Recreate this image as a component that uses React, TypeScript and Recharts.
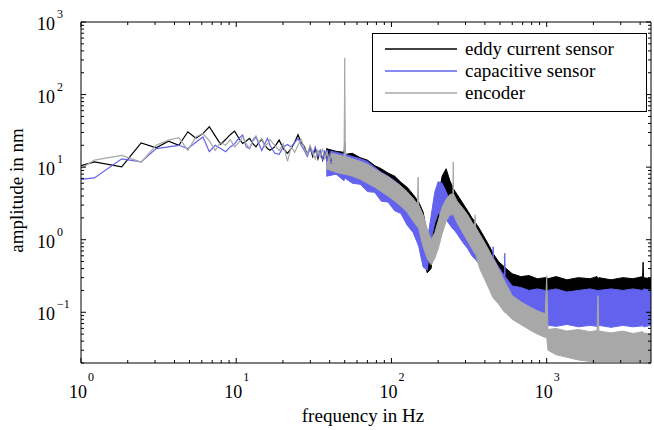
import { Area, ComposedChart, Legend, Line, XAxis, YAxis } from 'recharts'

const FONT = '"Liberation Serif", "Times New Roman", serif'

const seriesNames = ['eddy current sensor', 'capacitive sensor', 'encoder']
const seriesColors = ['#000000', '#6262ee', '#a8a8a8']

// low frequency part, drawn as plain lines (bins ~0.61 Hz apart)
const lowFreq = [
  1, 1.22, 1.83, 2.44, 3.05, 3.66, 4.27, 4.88, 5.49, 6.1, 6.71, 7.32, 7.93, 8.54, 9.15, 9.76,
  10.4, 11, 11.6, 12.2, 12.8, 13.4, 14, 14.6, 15.3, 15.9, 16.5, 17.7, 18.9, 20.1, 21.4, 22.6,
  23.8, 25, 26.2, 27.5, 28.7, 29.9, 31.1, 32.3, 33.6, 34.8, 36, 37.2, 38.4, 39.7, 40.9,
]
const eddyLow = [
  10.5, 11.8, 10.1, 21.6, 18.5, 22.8, 20, 30.7, 25, 29, 36, 27, 20.6, 24, 28, 31.4,
  25, 21.2, 23, 24.9, 21, 19, 22, 24, 20, 18, 17.1, 19, 23.6, 18, 15.5, 18.1,
  22, 28, 22, 19, 15, 19, 14, 18, 13, 17, 12.5, 16, 13, 17, 12,
]
const capLow = [
  6.8, 7.1, 13, 11.8, 18, 19, 20, 18, 22, 26, 16.3, 20, 18, 16.3, 19, 21,
  25, 27.6, 19, 18, 23, 26, 21, 17, 21, 25, 20, 15.5, 15, 19, 20.5, 19,
  22, 25, 20, 17, 14, 18, 15, 19, 14, 17, 13, 17, 12, 15, 11,
]
const encLow = [
  9.6, 12.5, 14.5, 11.7, 20, 23.6, 25.5, 17, 26, 29, 23, 17, 22, 20, 24, 19,
  22, 26, 21, 18, 24, 27, 22, 25, 19, 21, 24, 20, 17, 21, 12, 19,
  16, 20, 24, 18, 15, 20, 16, 13, 17, 14, 18, 13, 16, 12, 15,
]

// upper part: noise band, min / max per frequency
const bandFreq = [
  38, 44, 49.5, 50, 50.5, 56, 63, 70, 78, 86, 95, 105, 115, 126, 138, 147, 148.5, 150, 160, 170,
  180, 190, 200, 212, 225, 238, 249, 250, 251, 265, 285, 310, 330, 343, 346, 349, 370, 400, 430, 450,
  452, 455, 490, 535, 537, 540, 600, 680, 770, 870, 980, 1000, 1020, 1150, 1350, 1600, 1900, 2110, 2140, 2170,
  2600, 3100, 3600, 4150, 4180, 4210, 4700,
]
const eddyMin = [
  11, 9, 9, 9, 9, 8.5, 7.5, 6.5, 6, 5.5, 5, 4.3, 3.6, 3, 2.2, 1.6, 1.5, 1.4, 0.6, 0.35,
  0.4, 1.2, 1.8, 3.5, 4.5, 3.2, 2.7, 2.6, 2.6, 2.1, 1.6, 1.2, 0.95, 0.85, 0.82, 0.8, 0.65, 0.5, 0.42, 0.38,
  0.37, 0.36, 0.25, 0.22, 0.22, 0.22, 0.2, 0.19, 0.18, 0.18, 0.18, 0.17, 0.17, 0.17, 0.17, 0.17, 0.17, 0.17, 0.17, 0.17,
  0.17, 0.17, 0.17, 0.17, 0.17, 0.17, 0.17,
]
const eddyMax = [
  18, 16.5, 16, 22, 15, 15.5, 13.5, 12.5, 10.5, 9.5, 8.3, 7.5, 6.2, 5.3, 4.2, 3.5, 3.4, 3.3, 2.4, 1.2,
  0.9, 2.3, 3.8, 7.5, 9.5, 6.5, 5.2, 5.1, 5, 4.2, 3.3, 2.5, 2, 1.8, 1.75, 1.7, 1.4, 1.05, 0.8, 0.65,
  0.64, 0.63, 0.5, 0.42, 0.42, 0.41, 0.34, 0.31, 0.32, 0.29, 0.3, 0.3, 0.29, 0.31, 0.28, 0.3, 0.29, 0.31, 0.29, 0.3,
  0.28, 0.3, 0.29, 0.31, 0.49, 0.3, 0.29,
]
const capMin = [
  7.5, 8, 6.5, 7, 7, 6, 5.8, 4.6, 4.5, 3.4, 3.3, 2.5, 2.3, 1.6, 1.25, 0.9, 0.85, 0.8, 0.42, 0.38,
  1, 1.7, 2.3, 2.2, 1.9, 1.6, 1.4, 1.4, 1.4, 1.2, 0.95, 0.75, 0.6, 0.55, 0.54, 0.53, 0.45, 0.36, 0.3, 0.27,
  0.27, 0.27, 0.14, 0.11, 0.11, 0.11, 0.09, 0.08, 0.075, 0.07, 0.068, 0.066, 0.066, 0.064, 0.068, 0.063, 0.066, 0.064, 0.064, 0.066,
  0.062, 0.066, 0.063, 0.065, 0.065, 0.063, 0.066,
]
const capMax = [
  17, 16, 15, 16, 15, 14, 13, 12, 10, 8.5, 7.5, 6.5, 5.5, 4.5, 3.5, 2.6, 2.5, 2.4, 1.5, 0.95,
  2.1, 4.5, 6.3, 6, 4.6, 3.4, 2.9, 2.9, 2.9, 2.5, 2.1, 1.7, 1.4, 1.3, 1.28, 1.25, 1.05, 0.82, 0.65, 0.56,
  0.8, 0.55, 0.42, 0.32, 0.65, 0.31, 0.23, 0.22, 0.2, 0.21, 0.2, 0.19, 0.2, 0.21, 0.19, 0.2, 0.21, 0.2, 0.2, 0.2,
  0.21, 0.2, 0.21, 0.2, 0.2, 0.21, 0.2,
]
const encMin = [
  9.5, 8.5, 8, 8, 8, 7.5, 6.8, 6, 5.3, 4.6, 4, 3.4, 2.9, 2.4, 1.8, 1.5, 1.5, 1.4, 0.8, 0.55,
  0.45, 0.55, 0.75, 1.2, 1.8, 2.2, 2.2, 2.2, 2.2, 1.7, 1.3, 0.95, 0.75, 0.65, 0.65, 0.64, 0.4, 0.28, 0.2, 0.16,
  0.16, 0.155, 0.13, 0.1, 0.1, 0.1, 0.08, 0.068, 0.058, 0.05, 0.045, 0.045, 0.03, 0.026, 0.024, 0.022, 0.021, 0.021, 0.021, 0.021,
  0.021, 0.021, 0.021, 0.021, 0.021, 0.021, 0.021,
]
const encMax = [
  16, 15, 14, 320, 14, 13, 12, 11, 9.5, 8.3, 7.4, 6.3, 5.5, 4.6, 3.7, 3.1, 7.3, 3, 2.2, 1.4,
  1, 1.25, 1.8, 2.8, 3.6, 4.2, 4.3, 11.8, 4.3, 3.4, 2.8, 2.2, 1.75, 1.55, 2.2, 1.5, 1.2, 0.9, 0.68, 0.55,
  0.55, 0.54, 0.4, 0.27, 0.27, 0.26, 0.17, 0.14, 0.12, 0.105, 0.095, 0.32, 0.058, 0.06, 0.055, 0.058, 0.054, 0.056, 0.17, 0.055,
  0.052, 0.055, 0.051, 0.054, 0.053, 0.052, 0.05,
]

const xTicks = [
  1, 2, 3, 4, 5, 6, 7, 8, 9, 10, 20, 30, 40, 50, 60, 70, 80, 90,
  100, 200, 300, 400, 500, 600, 700, 800, 900, 1000, 2000, 3000, 4000,
]
const yTicks = [
  0.02, 0.03, 0.04, 0.05, 0.06, 0.07, 0.08, 0.09, 0.1, 0.2, 0.3, 0.4, 0.5, 0.6, 0.7, 0.8, 0.9,
  1, 2, 3, 4, 5, 6, 7, 8, 9, 10, 20, 30, 40, 50, 60, 70, 80, 90, 100, 200, 300, 400, 500, 600,
  700, 800, 900, 1000,
]

const lineData = (vals: number[]) => lowFreq.map((f, i) => ({ f, v: vals[i] }))
const bandData = (lo: number[], hi: number[]) =>
  bandFreq.map((f, i) => ({ f, range: [lo[i], hi[i]] }))

const series = [
  { low: lineData(eddyLow), band: bandData(eddyMin, eddyMax) },
  { low: lineData(capLow), band: bandData(capMin, capMax) },
  { low: lineData(encLow), band: bandData(encMin, encMax) },
]

function decade(v: number) {
  const l = Math.log10(v)
  return Math.abs(l - Math.round(l)) < 1e-6 ? Math.round(l) : null
}

function expText(e: number) {
  return e < 0 ? `\u2212${-e}` : `${e}`
}

function BottomTick({ x, y, payload }: any) {
  const e = decade(payload.value)
  return (
    <g>
      <line x1={x} x2={x} y1={y} y2={y - (e !== null ? 5 : 3)} stroke="#000" />
      {e !== null && (
        <g fontFamily={FONT} fill="#000">
          <text x={x - 3} y={y + 35} textAnchor="middle" fontSize={18}>10</text>
          <text x={x + 7} y={y + 18} fontSize={12}>{expText(e)}</text>
        </g>
      )}
    </g>
  )
}

function TopTick({ x, y, payload }: any) {
  const e = decade(payload.value)
  return <line x1={x} x2={x} y1={y} y2={y + (e !== null ? 5 : 3)} stroke="#000" />
}

function LeftTick({ x, y, payload }: any) {
  const e = decade(payload.value)
  return (
    <g>
      <line x1={x} x2={x + (e !== null ? 5 : 3)} y1={y} y2={y} stroke="#000" />
      {e !== null && (
        <g fontFamily={FONT} fill="#000">
          <text x={x - 26} y={y + 8} textAnchor="end" fontSize={18}>10</text>
          <text x={x - 24} y={y - 4} fontSize={12}>{expText(e)}</text>
        </g>
      )}
    </g>
  )
}

function RightTick({ x, y, payload }: any) {
  const e = decade(payload.value)
  return <line x1={x} x2={x - (e !== null ? 5 : 3)} y1={y} y2={y} stroke="#000" />
}

function XTitle({ viewBox }: any) {
  return (
    <text x={viewBox.x + viewBox.width / 2 - 3} y={viewBox.y + 59} textAnchor="middle"
      fontFamily={FONT} fontSize={19} fill="#000">
      frequency in Hz
    </text>
  )
}

function YTitle({ viewBox }: any) {
  const cy = viewBox.y + viewBox.height / 2 - 2
  return (
    <text x={23} y={cy} transform={`rotate(-90 23 ${cy})`} textAnchor="middle"
      fontFamily={FONT} fontSize={19} fill="#000">
      amplitude in nm
    </text>
  )
}

function LegendBox() {
  return (
    <div style={{
      width: 273, height: 73, paddingTop: 4, border: '1px solid #000', background: '#fff',
      fontFamily: FONT, fontSize: 19, color: '#000', lineHeight: '22px',
    }}>
      {seriesNames.map((name, i) => (
        <div key={name} style={{ display: 'flex', alignItems: 'center', height: 22 }}>
          <svg width={72} height={6} style={{ marginLeft: 12, marginRight: 8, display: 'block' }}>
            <line x1={0} x2={72} y1={3} y2={3} stroke={seriesColors[i]} strokeWidth={1.4} />
          </svg>
          <span>{name}</span>
        </div>
      ))}
    </div>
  )
}

export default function App() {
  return (
    <div style={{ position: 'fixed', left: 0, top: 0, width: 654, height: 430, background: '#fff' }}>
      <ComposedChart width={654} height={430} margin={{ top: 0, right: 0, bottom: 0, left: 0 }}>
        <XAxis
          dataKey="f" type="number" scale="log" domain={[1, 4700]} allowDataOverflow
          ticks={xTicks} interval={0} tick={(p: any) => <BottomTick {...p} />}
          tickLine={false} tickSize={0} tickMargin={0} height={67}
          axisLine={{ stroke: '#000' }} label={(p: any) => <XTitle {...p} />}
        />
        <XAxis
          xAxisId="top" orientation="top" dataKey="f" type="number" scale="log" domain={[1, 4700]}
          allowDataOverflow ticks={xTicks} interval={0} tick={(p: any) => <TopTick {...p} />}
          tickLine={false} tickSize={0} tickMargin={0} height={22} axisLine={{ stroke: '#000' }}
        />
        <YAxis
          type="number" scale="log" domain={[0.02, 1000]} allowDataOverflow
          ticks={yTicks} interval={0} tick={(p: any) => <LeftTick {...p} />}
          tickLine={false} tickSize={0} tickMargin={0} width={81}
          axisLine={{ stroke: '#000' }} label={(p: any) => <YTitle {...p} />}
        />
        <YAxis
          yAxisId="right" orientation="right" type="number" scale="log" domain={[0.02, 1000]}
          allowDataOverflow ticks={yTicks} interval={0} tick={(p: any) => <RightTick {...p} />}
          tickLine={false} tickSize={0} tickMargin={0} width={3} axisLine={{ stroke: '#000' }}
        />
        {series.map((s, i) => [
          <Line
            key={`l${i}`} data={s.low} dataKey="v" stroke={seriesColors[i]} strokeWidth={1.2}
            dot={false} isAnimationActive={false} legendType="none"
          />,
          <Area
            key={`a${i}`} data={s.band} dataKey="range" stroke={seriesColors[i]} strokeWidth={1}
            fill={seriesColors[i]} fillOpacity={1} dot={false} activeDot={false}
            isAnimationActive={false} legendType="none"
          />,
        ])}
        <Legend
          layout="vertical" align="center" verticalAlign="middle"
          content={() => <LegendBox />}
          wrapperStyle={{ position: 'absolute', left: 372, top: 33, width: 'auto', height: 'auto' }}
        />
      </ComposedChart>
    </div>
  )
}
